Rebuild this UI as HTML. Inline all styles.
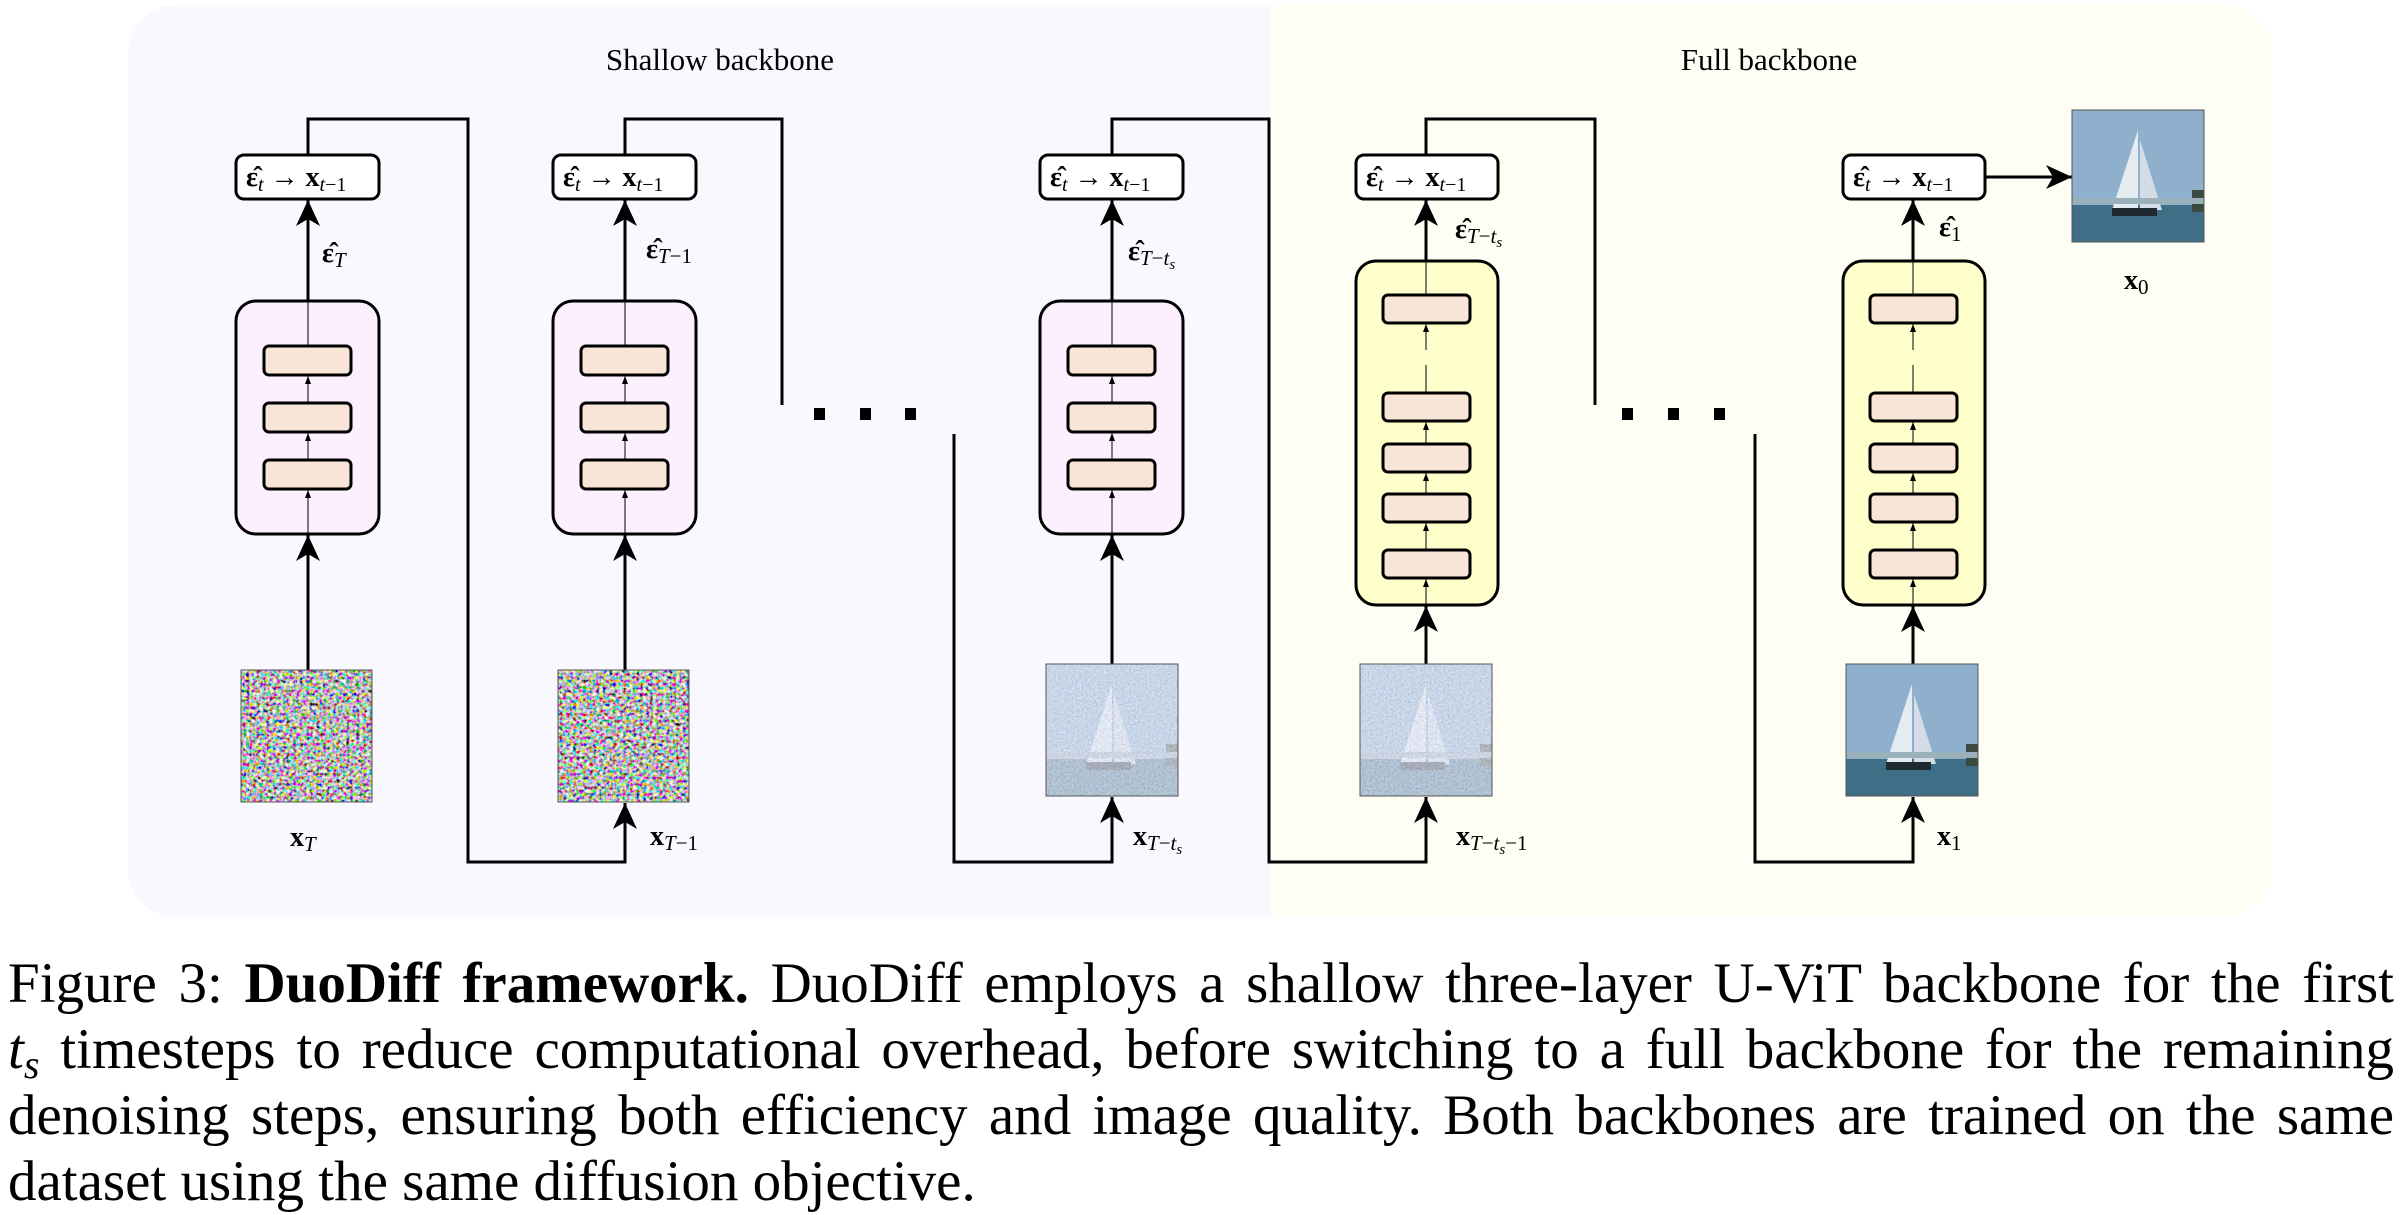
<!DOCTYPE html>
<html><head><meta charset="utf-8"><style>
html,body{margin:0;padding:0;background:#fff;width:2402px;height:1214px;overflow:hidden}
svg{position:absolute;left:0;top:0}
.cap{position:absolute;left:8px;top:951px;width:2386px;font-family:"Liberation Serif",serif;font-size:57px;line-height:66px;color:#000}
.cap div{height:66px;text-align:justify;text-align-last:justify;white-space:nowrap}
.cap div.l{text-align-last:left}
.sb{font-size:40px;position:relative;top:10px;line-height:0}
</style></head><body>
<svg width="2402" height="940" viewBox="0 0 2402 940" font-family="Liberation Serif, serif">
<defs>
<clipPath id="pc"><rect x="128" y="5" width="2144" height="912" rx="48"/></clipPath>
<filter id="nz" x="0" y="0" width="100%" height="100%"><feTurbulence type="fractalNoise" baseFrequency="0.3" numOctaves="2" seed="3"/><feColorMatrix type="matrix" values="2.6 0 0 0 -0.8  0 2.6 0 0 -0.8  0 0 2.6 0 -0.8  0 0 0 0 1"/></filter>
<filter id="nz2" x="0" y="0" width="100%" height="100%"><feTurbulence type="fractalNoise" baseFrequency="0.5" numOctaves="1" seed="7"/><feColorMatrix type="matrix" values="0.8 0.2 0 0 0.25  0.2 0.8 0 0 0.28  0.1 0.2 0.8 0 0.35  0 0 0 0 0.7"/></filter>
<marker id="ah" viewBox="0 0 26 24" refX="26" refY="12" markerWidth="26" markerHeight="24" markerUnits="userSpaceOnUse" orient="auto"><path d="M26 12 L0 0 L7 12 L0 24 Z" fill="#000"/></marker>
<g id="boat"><rect width="132" height="132" fill="#8fb0cc"/><rect y="95" width="132" height="37" fill="#3f6f86"/><path d="M66 20 L66 100 L40 100 Z" fill="#e4ecf2"/><path d="M68 30 L68 100 L90 100 Z" fill="#d4dde6"/><rect x="40" y="98" width="45" height="8" fill="#1e2a30"/><rect x="120" y="80" width="12" height="22" fill="#3a4a3e"/><rect y="88" width="132" height="6" fill="#9ab0bb"/></g>
</defs>
<g clip-path="url(#pc)"><rect x="128" y="5" width="1142" height="912" fill="#f9f8fe"/><rect x="1270" y="5" width="1002" height="912" fill="#fefef5"/></g>
<text x="720" y="70" font-size="31" text-anchor="middle">Shallow backbone</text>
<text x="1769" y="70" font-size="31" text-anchor="middle">Full backbone</text>

<g fill="none" stroke="#000" stroke-width="3">
<polyline points="308,154 308,119 468,119 468,862 625,862 625,803" marker-end="url(#ah)"/>
<polyline points="625,154 625,119 782,119 782,405"/>
<polyline points="954,434 954,862 1112,862 1112,797" marker-end="url(#ah)"/>
<polyline points="1112,154 1112,119 1269,119 1269,862 1426,862 1426,797" marker-end="url(#ah)"/>
<polyline points="1426,154 1426,119 1595,119 1595,405"/>
<polyline points="1755,434 1755,862 1913,862 1913,797" marker-end="url(#ah)"/>
<polyline points="1984,177 2072,177" marker-end="url(#ah)"/>
</g>
<g fill="#000"><rect x="814" y="408" width="11" height="12"/><rect x="860" y="408" width="11" height="12"/><rect x="905" y="408" width="11" height="12"/><rect x="1622" y="408" width="11" height="12"/><rect x="1668" y="408" width="11" height="12"/><rect x="1714" y="408" width="11" height="12"/></g>

<g id="sc">
<polyline points="308,670 308,535" stroke="#000" stroke-width="3" fill="none" marker-end="url(#ah)"/>
<polyline points="308,301 308,200" stroke="#000" stroke-width="3" fill="none" marker-end="url(#ah)"/>
<rect x="236" y="301" width="143" height="233" rx="20" fill="#fcf0fe" stroke="#000" stroke-width="3"/>
<line x1="308" y1="301" x2="308" y2="534" stroke="#000" stroke-width="1"/>
<g fill="#f9e4d8" stroke="#000" stroke-width="3"><rect x="264" y="346" width="87" height="29" rx="5"/><rect x="264" y="403" width="87" height="29" rx="5"/><rect x="264" y="460" width="87" height="29" rx="5"/></g>
<path d="M305 384 L308 376 L311 384Z M305 441 L308 433 L311 441Z M305 498 L308 490 L311 498Z" fill="#000"/>
<rect x="236" y="155" width="143" height="44" rx="8" fill="#fff" stroke="#000" stroke-width="3"/>
<text x="246" y="186" font-size="28"><tspan font-weight="bold">ε̂</tspan><tspan font-style="italic" font-size="20" dy="5">t</tspan><tspan dy="-5"> → </tspan><tspan font-weight="bold">x</tspan><tspan font-style="italic" font-size="20" dy="5">t</tspan><tspan font-size="20">−1</tspan></text>
</g>
<use href="#sc" x="317"/>
<use href="#sc" x="804"/>

<g id="fc">
<polyline points="1426,664 1426,606" stroke="#000" stroke-width="3" fill="none" marker-end="url(#ah)"/>
<polyline points="1426,261 1426,200" stroke="#000" stroke-width="3" fill="none" marker-end="url(#ah)"/>
<rect x="1356" y="261" width="142" height="344" rx="20" fill="#ffffcc" stroke="#000" stroke-width="3"/>
<line x1="1426" y1="261" x2="1426" y2="350" stroke="#000" stroke-width="1"/>
<line x1="1426" y1="365" x2="1426" y2="605" stroke="#000" stroke-width="1"/>
<g fill="#f9e4d8" stroke="#000" stroke-width="3"><rect x="1383" y="295" width="87" height="28" rx="5"/><rect x="1383" y="393" width="87" height="28" rx="5"/><rect x="1383" y="444" width="87" height="28" rx="5"/><rect x="1383" y="494" width="87" height="28" rx="5"/><rect x="1383" y="550" width="87" height="28" rx="5"/></g>
<path d="M1423 332 L1426 324 L1429 332Z M1423 430 L1426 422 L1429 430Z M1423 481 L1426 473 L1429 481Z M1423 531 L1426 523 L1429 531Z M1423 587 L1426 579 L1429 587Z" fill="#000"/>
<rect x="1356" y="155" width="142" height="44" rx="8" fill="#fff" stroke="#000" stroke-width="3"/>
<text x="1366" y="186" font-size="28"><tspan font-weight="bold">ε̂</tspan><tspan font-style="italic" font-size="20" dy="5">t</tspan><tspan dy="-5"> → </tspan><tspan font-weight="bold">x</tspan><tspan font-style="italic" font-size="20" dy="5">t</tspan><tspan font-size="20">−1</tspan></text>
</g>
<use href="#fc" x="487"/>

<rect x="241" y="670" width="131" height="132" filter="url(#nz)"/>
<rect x="558" y="670" width="131" height="132" filter="url(#nz)"/>
<g transform="translate(1046,664)"><use href="#boat"/><rect width="132" height="132" filter="url(#nz2)"/></g>
<g transform="translate(1360,664)"><use href="#boat"/><rect width="132" height="132" filter="url(#nz2)"/></g>
<use href="#boat" x="1846" y="664"/>
<use href="#boat" x="2072" y="110"/>
<g stroke="#555" stroke-width="1" fill="none"><rect x="241" y="670" width="131" height="132"/><rect x="558" y="670" width="131" height="132"/><rect x="1046" y="664" width="132" height="132"/><rect x="1360" y="664" width="132" height="132"/><rect x="1846" y="664" width="132" height="132"/><rect x="2072" y="110" width="132" height="132"/></g>

<g font-size="28">
<text x="322" y="262"><tspan font-weight="bold">ε̂</tspan><tspan font-style="italic" font-size="21" dy="5">T</tspan></text>
<text x="646" y="258"><tspan font-weight="bold">ε̂</tspan><tspan font-style="italic" font-size="21" dy="5">T</tspan><tspan font-size="21">−1</tspan></text>
<text x="1128" y="260"><tspan font-weight="bold">ε̂</tspan><tspan font-style="italic" font-size="21" dy="5">T</tspan><tspan font-size="21">−</tspan><tspan font-style="italic" font-size="21">t<tspan font-size="15" dy="4">s</tspan></tspan></text>
<text x="1455" y="238"><tspan font-weight="bold">ε̂</tspan><tspan font-style="italic" font-size="21" dy="5">T</tspan><tspan font-size="21">−</tspan><tspan font-style="italic" font-size="21">t<tspan font-size="15" dy="4">s</tspan></tspan></text>
<text x="1939" y="236"><tspan font-weight="bold">ε̂</tspan><tspan font-size="21" dy="5">1</tspan></text>
<text x="290" y="846"><tspan font-weight="bold">x</tspan><tspan font-style="italic" font-size="21" dy="5">T</tspan></text>
<text x="650" y="845"><tspan font-weight="bold">x</tspan><tspan font-style="italic" font-size="21" dy="5">T</tspan><tspan font-size="21">−1</tspan></text>
<text x="1133" y="845"><tspan font-weight="bold">x</tspan><tspan font-style="italic" font-size="21" dy="5">T</tspan><tspan font-size="21">−</tspan><tspan font-style="italic" font-size="21">t<tspan font-size="15" dy="4">s</tspan></tspan></text>
<text x="1456" y="845"><tspan font-weight="bold">x</tspan><tspan font-style="italic" font-size="21" dy="5">T</tspan><tspan font-size="21">−</tspan><tspan font-style="italic" font-size="21">t<tspan font-size="15" dy="4">s</tspan></tspan><tspan font-size="21" dy="-4">−1</tspan></text>
<text x="1937" y="845"><tspan font-weight="bold">x</tspan><tspan font-size="21" dy="5">1</tspan></text>
<text x="2124" y="289"><tspan font-weight="bold">x</tspan><tspan font-size="21" dy="5">0</tspan></text>
</g>
</svg>
<div class="cap">
<div>Figure 3: <b>DuoDiff framework.</b> DuoDiff employs a shallow three-layer U-ViT backbone for the first</div>
<div><i>t<span class="sb">s</span></i> timesteps to reduce computational overhead, before switching to a full backbone for the remaining</div>
<div>denoising steps, ensuring both efficiency and image quality. Both backbones are trained on the same</div>
<div class="l">dataset using the same diffusion objective.</div>
</div>
</body></html>
